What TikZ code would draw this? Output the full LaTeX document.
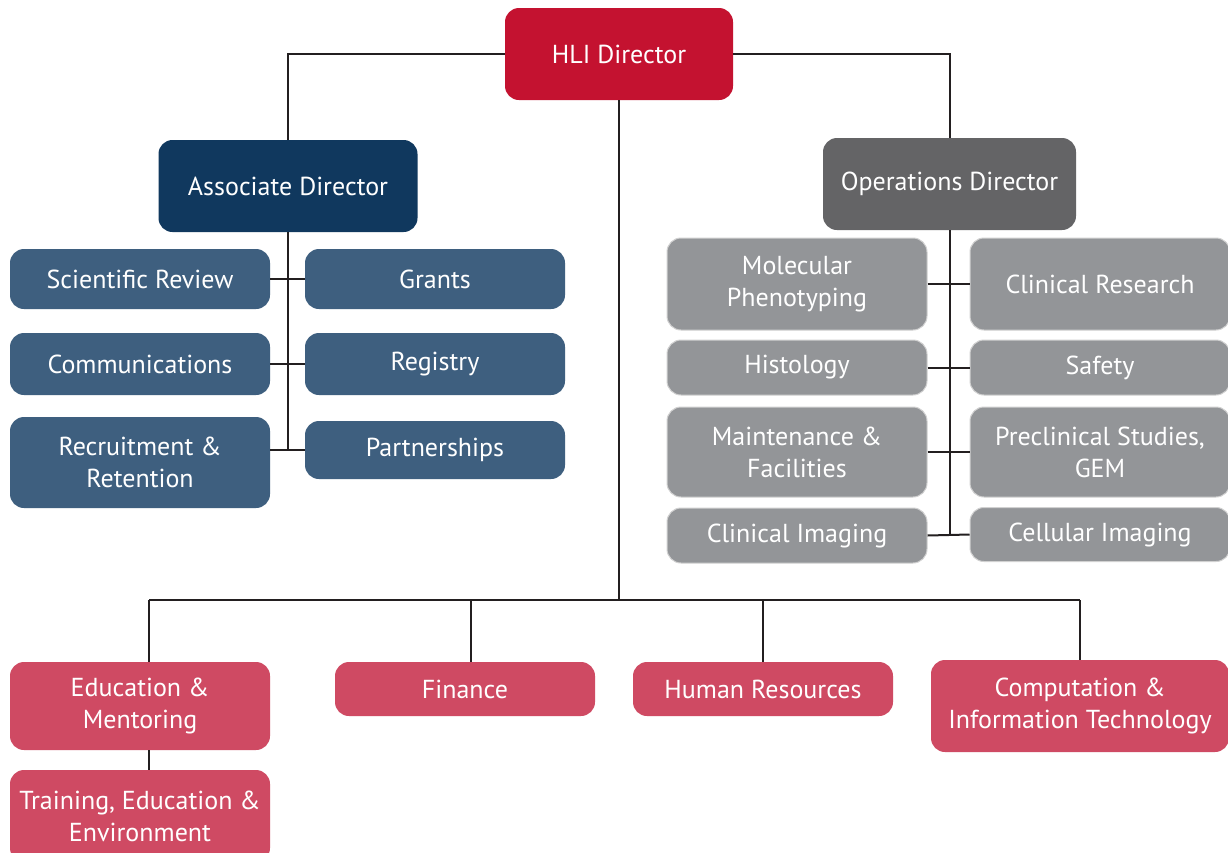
\documentclass[tikz,border=0pt]{standalone}
\usepackage{fontspec}
\setmainfont{PT Sans}
\definecolor{hlired}{HTML}{C41230}
\definecolor{navy}{HTML}{10385E}
\definecolor{steel}{HTML}{3E5F7F}
\definecolor{opsgray}{HTML}{646466}
\definecolor{lightgray}{HTML}{939598}
\definecolor{pinkred}{HTML}{CF4A63}
\definecolor{linec}{HTML}{231F20}
\begin{document}
\begin{tikzpicture}[x=1pt,y=-1pt,
  box/.style={rounded corners=14pt, inner sep=0pt, align=center, text=white,
    font=\fontsize{26}{32}\selectfont, minimum width=260pt},
  topbox/.style={box, minimum height=92pt},
  redbox/.style={topbox, fill=hlired, minimum width=228pt},
  navybox/.style={topbox, fill=navy, minimum width=259pt},
  opsbox/.style={topbox, fill=opsgray, minimum width=253pt},
  bluebox/.style={box, fill=steel},
  graybox/.style={box, fill=lightgray, draw=black!18, line width=1pt},
  pinkbox/.style={box, fill=pinkred},
  conn/.style={draw=linec, line width=2pt}]
\useasboundingbox (0,0) rectangle (1228,852);
\fill[white] (0,0) rectangle (1228,852);
% top level
\node[redbox] (hli) at (619,54) {HLI Director};
\node[navybox] (assoc) at (288,186) {Associate Director};
\node[opsbox] (ops) at (949.5,184) {Operations Director};
% left blue
\node[bluebox, minimum height=60pt] (sr) at (140,279) {Scientific Review};
\node[bluebox, minimum height=60pt] (gr) at (435,279) {Grants};
\node[bluebox, minimum height=62pt] (com) at (140,364) {Communications};
\node[bluebox, minimum height=62pt] (reg) at (435,364) {Registry};
\node[bluebox, minimum height=91pt] (rr) at (140,462.5) {Recruitment \&\\Retention};
\node[bluebox, minimum height=58pt] (par) at (435,450) {Partnerships};
% right gray
\node[graybox, minimum height=92pt] (mp) at (797,284) {Molecular\\Phenotyping};
\node[graybox, minimum height=92pt] (cr) at (1100,284) {Clinical Research};
\node[graybox, minimum height=55pt] (his) at (797,367.5) {Histology};
\node[graybox, minimum height=55pt] (saf) at (1100,367.5) {Safety};
\node[graybox, minimum height=90pt] (mf) at (797,452) {Maintenance \&\\Facilities};
\node[graybox, minimum height=90pt] (pcs) at (1100,452) {Preclinical Studies,\\GEM};
\node[graybox, minimum height=55pt] (ci) at (797,535.5) {Clinical Imaging};
\node[graybox, minimum height=54pt] (cei) at (1100,534.5) {Cellular Imaging};
% bottom pink
\node[pinkbox, minimum height=88pt] (em) at (140,706) {Education \&\\Mentoring};
\node[pinkbox, minimum height=54pt] (fin) at (465,689) {Finance};
\node[pinkbox, minimum height=54pt] (hr) at (763,689) {Human Resources};
\node[pinkbox, minimum height=92pt, minimum width=298pt] (cit) at (1080,706) {Computation \&\\Information Technology};
\node[pinkbox, minimum height=92pt] (tee) at (140,816) {Training, Education \&\\Environment};
% connectors
\draw[conn] (assoc.north) |- (hli.west);
\draw[conn] (ops.north) |- (hli.east);
\coordinate (lbot) at (assoc.south |- par.west);
\draw[conn] (assoc.south) -- (lbot);
\draw[conn] (sr.east) -- (gr.west);
\draw[conn] (com.east) -- (reg.west);
\draw[conn] (rr.east |- par.west) -- (par.west);
\coordinate (rbot) at (ops.south |- ci.east);
\draw[conn] (ops.south) -- (rbot);
\draw[conn] (mp.east) -- (cr.west);
\draw[conn] (his.east) -- (saf.west);
\draw[conn] (mf.east) -- (pcs.west);
\draw[conn] (ci.east) -- (cei.west);
\coordinate (bus) at (619,600);
\coordinate (bl) at (149,600);
\coordinate (bf) at (471,600);
\coordinate (bh) at (763,600);
\coordinate (br) at (1080,600);
\draw[conn] (hli.south) -- (bus);
\draw[conn] (bl) -- (br);
\draw[conn] (bl) -- (bl |- em.north);
\draw[conn] (bf) -- (bf |- fin.north);
\draw[conn] (bh) -- (bh |- hr.north);
\draw[conn] (br) -- (br |- cit.north);
\draw[conn] (bl |- em.south) -- (bl |- tee.north);
\end{tikzpicture}
\end{document}
